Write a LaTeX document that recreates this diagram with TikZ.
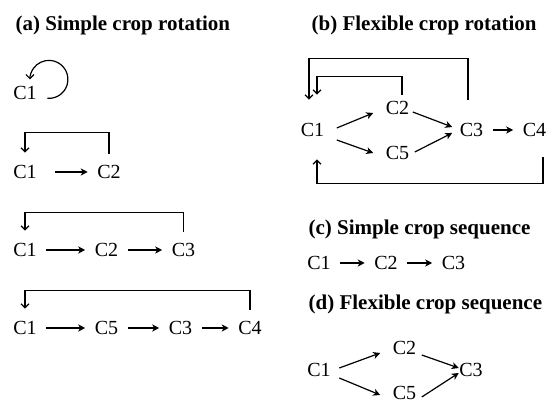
\documentclass[tikz,border=0pt]{standalone}
\usepackage{fontspec}
\setmainfont{Liberation Serif}
\usetikzlibrary{arrows.meta}

\begin{document}
\begin{tikzpicture}[x=1pt,y=1pt,line width=1.2pt,
    crop/.style={inner sep=3pt,font=\fontsize{20}{24}\selectfont},
    head/.style={anchor=base west,inner sep=0pt,font=\fontsize{21}{25}\selectfont\bfseries},
    flow/.style={-{Stealth[length=7pt,width=7pt,inset=2pt]},shorten <=6pt,shorten >=6pt},
    fork/.style={-{Stealth[length=7pt,width=7pt,inset=2pt]}},
    back/.style={-{Straight Barb[length=4pt,width=8pt]},shorten <=8pt,shorten >=9pt}]
    \useasboundingbox (0,0) rectangle (556,403);

    % (a) simple crop rotation
    \node[head] (ta) at (15,372) {(a) Simple crop rotation};
    \node[crop] (a1c1) at (25,310) {C1};
    \draw[back,shorten <=0pt,shorten >=0pt] ([shift={(7pt,5pt)}]a1c1.south east) arc[start angle=-95,end angle=180,radius=19pt];

    \node[crop] (a2c1) at (25,231) {C1};
    \node[crop] (a2c2) at (109,231) {C2};
    \draw[flow,shorten <=15pt] (a2c1) -- (a2c2);
    \draw[back] (a2c2.north) -- ++(0,29) -| (a2c1.north);

    \node[crop] (a3c1) at (25,153) {C1};
    \node[crop] (a3c2) at (106.5,153) {C2};
    \node[crop] (a3c3) at (183.5,153) {C3};
    \draw[flow] (a3c1) -- (a3c2);
    \draw[flow] (a3c2) -- (a3c3);
    \draw[back] (a3c3.north) -- ++(0,27) -| (a3c1.north);

    \node[crop] (a4c1) at (25,75) {C1};
    \node[crop] (a4c5) at (106.5,75) {C5};
    \node[crop] (a4c3) at (180.5,75) {C3};
    \node[crop] (a4c4) at (250,75) {C4};
    \draw[flow] (a4c1) -- (a4c5);
    \draw[flow] (a4c5) -- (a4c3);
    \draw[flow] (a4c3) -- (a4c4);
    \draw[back] (a4c4.north) -- ++(0,27) -| (a4c1.north);

    % (b) flexible crop rotation
    \node[head] (tb) at (311,372) {(b) Flexible crop rotation};
    \node[crop] (bc1) at (312.5,273) {C1};
    \node[crop] (bc2) at (397.5,295) {C2};
    \node[crop] (bc5) at (397.5,250) {C5};
    \node[crop] (bc3) at (471.5,273) {C3};
    \node[crop] (bc4) at (534.5,273) {C4};
    \draw[fork] ([shift={(9pt,2pt)}]bc1.east) -- ([shift={(-9pt,-5pt)}]bc2.west);
    \draw[fork] ([shift={(9pt,-10pt)}]bc1.east) -- ([shift={(-9pt,0pt)}]bc5.west);
    \draw[fork] ([shift={(0pt,-4pt)}]bc2.east) -- ([shift={(-4pt,3pt)}]bc3.west);
    \draw[fork] ([shift={(2pt,1pt)}]bc5.east) -- ([shift={(-4pt,-3pt)}]bc3.west);
    \draw[flow] (bc3) -- (bc4);
    \draw[back,shorten <=20pt,shorten >=20pt] ([xshift=-3.5pt]bc3.north) -- ++(0,61) -| ([xshift=-3.5pt]bc1.north);
    \draw[back,shorten <=3pt,shorten >=25pt] ([xshift=4.5pt]bc2.north) -- ++(0,21) -| ([xshift=4.5pt]bc1.north);
    \draw[back,shorten <=17pt,shorten >=19pt] ([xshift=8.5pt]bc4.south) -- ++(0,-43) -| ([xshift=4.5pt]bc1.south);

    % (c) simple crop sequence
    \node[head] (tc) at (308,168) {(c) Simple crop sequence};
    \node[crop] (cc1) at (319,140) {C1};
    \node[crop] (cc2) at (386,140) {C2};
    \node[crop] (cc3) at (453.5,140) {C3};
    \draw[flow] (cc1) -- (cc2);
    \draw[flow] (cc2) -- (cc3);

    % (d) flexible crop sequence
    \node[head] (td) at (308,93) {(d) Flexible crop sequence};
    \node[crop] (dc1) at (319,33) {C1};
    \node[crop] (dc2) at (404.5,55) {C2};
    \node[crop] (dc5) at (404.5,10) {C5};
    \node[crop] (dc3) at (471,33) {C3};
    \draw[fork] ([shift={(5pt,2pt)}]dc1.east) -- ([shift={(-9pt,-5pt)}]dc2.west);
    \draw[fork] ([shift={(5pt,-8pt)}]dc1.east) -- ([shift={(-9pt,-2pt)}]dc5.west);
    \draw[fork] ([shift={(2pt,-7pt)}]dc2.east) -- ([shift={(3pt,2pt)}]dc3.west);
    \draw[fork] ([shift={(2pt,-4pt)}]dc5.east) -- ([shift={(3pt,-3pt)}]dc3.west);
  \end{tikzpicture}
\end{document}
